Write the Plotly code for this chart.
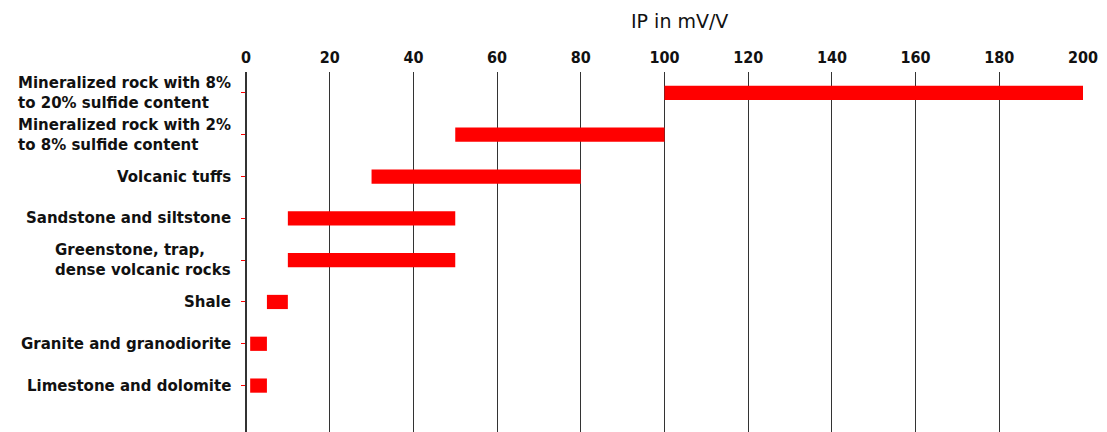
import plotly.graph_objects as go

categories = [
    "Mineralized rock with 8%<br>to 20% sulfide content",
    "Mineralized rock with 2%<br>to 8% sulfide content",
    "Volcanic tuffs",
    "Sandstone and siltstone",
    "Greenstone, trap,<br>dense volcanic rocks",
    "Shale",
    "Granite and granodiorite",
    "Limestone and dolomite",
]
ip_low = [100, 50, 30, 10, 10, 5, 1, 1]
ip_high = [200, 100, 80, 50, 50, 10, 5, 5]
x_ticks = [0, 20, 40, 60, 80, 100, 120, 140, 160, 180, 200]

fig = go.Figure()
fig.add_trace(go.Bar(
    y=categories,
    x=[h - l for h, l in zip(ip_high, ip_low)],
    base=ip_low,
    orientation="h",
    marker=dict(color="#ff0000", line=dict(width=0)),
    width=0.34,
    hoverinfo="skip",
))

label_font = dict(family="DejaVu Sans, Liberation Sans, sans-serif", size=15, color="#111111")
for cat in categories:
    fig.add_annotation(
        x=-0.016, xref="paper", y=cat, yref="y",
        text="<b>" + cat + "</b>", showarrow=False,
        xanchor="right", yanchor="middle", align="left",
        font=label_font,
    )

fig.add_annotation(
    x=0.518, xref="paper", y=1.1417, yref="paper", yanchor="middle",
    text="IP in mV/V", showarrow=False,
    font=dict(family="DejaVu Sans, Liberation Sans, sans-serif", size=19, color="#111111"),
)

fig.update_layout(
    width=1107, height=432,
    margin=dict(l=238, r=32, t=64, b=8),
    plot_bgcolor="white", paper_bgcolor="white",
    showlegend=False,
    xaxis=dict(
        side="top", range=[0, 200], tickvals=x_ticks,
        ticktext=["<b>%d</b>" % v for v in x_ticks],
        showgrid=True, gridcolor="#333333", gridwidth=1.3,
        zeroline=True, zerolinecolor="#333333", zerolinewidth=1.5,
        showline=False, ticks="", ticklabelstandoff=5,
        tickfont=dict(family="DejaVu Sans Condensed, DejaVu Sans, sans-serif", size=16, color="#111111"),
        fixedrange=True, automargin=False,
    ),
    yaxis=dict(
        type="category", categoryorder="array", categoryarray=categories,
        range=[8.11, -0.5], showticklabels=False,
        ticks="outside", ticklen=4, tickcolor="#ff0000", tickwidth=1,
        showgrid=False, zeroline=False, showline=False,
        fixedrange=True, automargin=False,
    ),
)
fig.write_html("out.html")
